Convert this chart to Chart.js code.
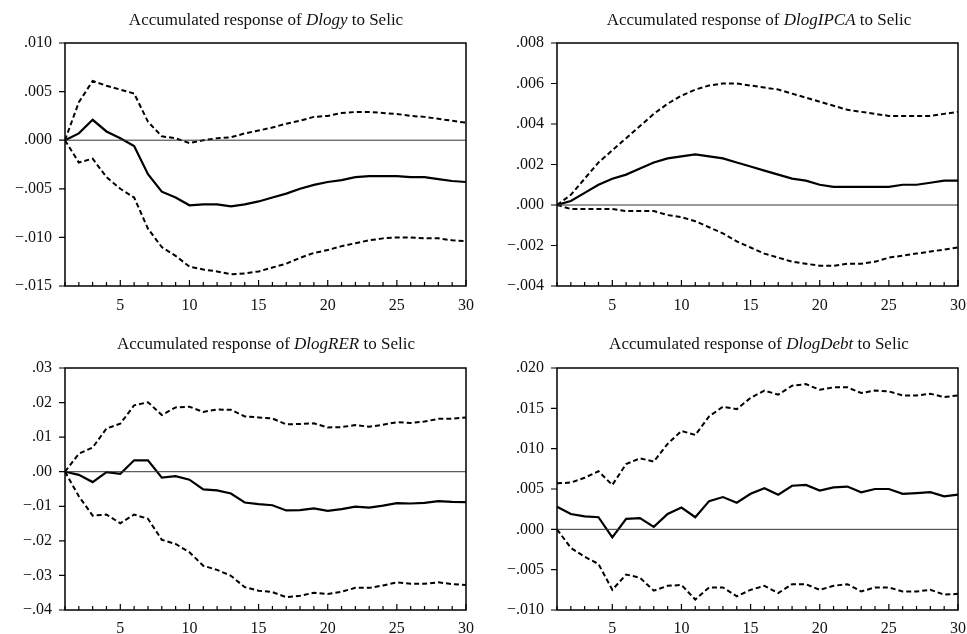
<!DOCTYPE html>
<html>
<head>
<meta charset="utf-8">
<script src="https://cdn.jsdelivr.net/npm/chart.js@4.4.1/dist/chart.umd.min.js"></script>
<style>
  body { margin: 0; background: #fff; }
  #wrap { position: relative; width: 967px; height: 634px; overflow: hidden; }
  .box { position: absolute; }
  .ttl { position: absolute; font-family: "Liberation Serif", serif; font-size: 17px; color: #111;
         white-space: nowrap; transform: translate(-50%, -50%); }
</style>
</head>
<body>
<div id="wrap">
  <div class="box" style="left:0;top:0;width:483px;height:317px"><canvas id="c1"></canvas></div>
  <div class="box" style="left:483px;top:0;width:484px;height:317px"><canvas id="c2"></canvas></div>
  <div class="box" style="left:0;top:317px;width:483px;height:317px"><canvas id="c3"></canvas></div>
  <div class="box" style="left:483px;top:317px;width:484px;height:317px"><canvas id="c4"></canvas></div>
  <div class="ttl" style="left:266px;top:20px">Accumulated response of <i>Dlogy</i> to Selic</div>
  <div class="ttl" style="left:759px;top:20px">Accumulated response of <i>DlogIPCA</i> to Selic</div>
  <div class="ttl" style="left:266px;top:344px">Accumulated response of <i>DlogRER</i> to Selic</div>
  <div class="ttl" style="left:759px;top:344px">Accumulated response of <i>DlogDebt</i> to Selic</div>
</div>
<script>
// periods 1..30
const periods = [1,2,3,4,5,6,7,8,9,10,11,12,13,14,15,16,17,18,19,20,21,22,23,24,25,26,27,28,29,30];

// Dlogy
const dlogyMid = [0,0.0007,0.0021,0.0009,0.0002,-0.0006,-0.0035,-0.0053,-0.0059,-0.0067,-0.0066,-0.0066,-0.0068,-0.0066,-0.0063,-0.0059,-0.0055,-0.0050,-0.0046,-0.0043,-0.0041,-0.0038,-0.0037,-0.0037,-0.0037,-0.0038,-0.0038,-0.0040,-0.0042,-0.0043];
const dlogyUp = [0,0.0039,0.0061,0.0056,0.0052,0.0048,0.0019,0.0004,0.0002,-0.0003,0.0000,0.0002,0.0003,0.0007,0.0010,0.0013,0.0017,0.0020,0.0024,0.0025,0.0028,0.0029,0.0029,0.0028,0.0027,0.0025,0.0024,0.0022,0.0020,0.0018];
const dlogyLo = [0,-0.0023,-0.0019,-0.0038,-0.0050,-0.0059,-0.0091,-0.0110,-0.0119,-0.0130,-0.0133,-0.0135,-0.0138,-0.0137,-0.0135,-0.0131,-0.0127,-0.0121,-0.0116,-0.0113,-0.0109,-0.0106,-0.0103,-0.0101,-0.0100,-0.0100,-0.0101,-0.0101,-0.0103,-0.0104];
const dlogyTicks = [-0.015,-0.010,-0.005,0,0.005,0.010];

// DlogIPCA
const ipcaMid = [0,0.0002,0.0006,0.0010,0.0013,0.0015,0.0018,0.0021,0.0023,0.0024,0.0025,0.0024,0.0023,0.0021,0.0019,0.0017,0.0015,0.0013,0.0012,0.0010,0.0009,0.0009,0.0009,0.0009,0.0009,0.0010,0.0010,0.0011,0.0012,0.0012];
const ipcaUp = [0,0.0005,0.0013,0.0021,0.0027,0.0033,0.0039,0.0045,0.0050,0.0054,0.0057,0.0059,0.0060,0.0060,0.0059,0.0058,0.0057,0.0055,0.0053,0.0051,0.0049,0.0047,0.0046,0.0045,0.0044,0.0044,0.0044,0.0044,0.0045,0.0046];
const ipcaLo = [0,-0.0002,-0.0002,-0.0002,-0.0002,-0.0003,-0.0003,-0.0003,-0.0005,-0.0006,-0.0008,-0.0011,-0.0014,-0.0018,-0.0021,-0.0024,-0.0026,-0.0028,-0.0029,-0.0030,-0.0030,-0.0029,-0.0029,-0.0028,-0.0026,-0.0025,-0.0024,-0.0023,-0.0022,-0.0021];
const ipcaTicks = [-0.004,-0.002,0,0.002,0.004,0.006,0.008];

// DlogRER
const rerMid = [0,-0.0009,-0.0030,-0.0001,-0.0006,0.0033,0.0033,-0.0017,-0.0013,-0.0023,-0.0051,-0.0054,-0.0063,-0.0089,-0.0094,-0.0097,-0.0112,-0.0111,-0.0106,-0.0113,-0.0108,-0.0101,-0.0104,-0.0098,-0.0091,-0.0092,-0.0090,-0.0085,-0.0087,-0.0088];
const rerUp = [0,0.0052,0.0070,0.0125,0.0139,0.0192,0.0201,0.0164,0.0186,0.0188,0.0173,0.0180,0.0179,0.0160,0.0157,0.0154,0.0137,0.0138,0.0140,0.0128,0.0129,0.0135,0.0130,0.0136,0.0143,0.0141,0.0145,0.0153,0.0153,0.0157];
const rerLo = [0,-0.0071,-0.0127,-0.0124,-0.0149,-0.0124,-0.0136,-0.0197,-0.0209,-0.0233,-0.0272,-0.0284,-0.0301,-0.0334,-0.0344,-0.0348,-0.0363,-0.0359,-0.0350,-0.0354,-0.0347,-0.0336,-0.0336,-0.0329,-0.0320,-0.0324,-0.0324,-0.0320,-0.0325,-0.0328];
const rerTicks = [-0.04,-0.03,-0.02,-0.01,0,0.01,0.02,0.03];

// DlogDebt
const debtMid = [0.0028,0.0019,0.0016,0.0015,-0.0010,0.0013,0.0014,0.0003,0.0019,0.0027,0.0015,0.0035,0.0040,0.0033,0.0044,0.0051,0.0043,0.0054,0.0055,0.0048,0.0052,0.0053,0.0046,0.0050,0.0050,0.0044,0.0045,0.0046,0.0041,0.0043];
const debtUp = [0.0057,0.0058,0.0064,0.0072,0.0055,0.0081,0.0088,0.0084,0.0106,0.0122,0.0117,0.0140,0.0152,0.0149,0.0163,0.0172,0.0167,0.0178,0.0180,0.0173,0.0176,0.0176,0.0169,0.0172,0.0171,0.0166,0.0166,0.0168,0.0164,0.0166];
const debtLo = [0,-0.0023,-0.0034,-0.0043,-0.0075,-0.0056,-0.0060,-0.0076,-0.0070,-0.0069,-0.0087,-0.0072,-0.0072,-0.0083,-0.0075,-0.0070,-0.0079,-0.0068,-0.0068,-0.0075,-0.0070,-0.0068,-0.0077,-0.0072,-0.0072,-0.0077,-0.0077,-0.0075,-0.0081,-0.0080];
const debtTicks = [-0.010,-0.005,0,0.005,0.010,0.015,0.020];

const FONT = "'Liberation Serif', serif";

function fmt(v, dec) {
    let s = Math.abs(v).toFixed(dec).replace(/^0/, "");
    return (v < -1e-9 ? "\u2212" : "") + s;
}

// frame, zero line and the small tick marks
const framePlugin = {
    id: "frame",
    afterDatasetsDraw(chart) {
        const ctx = chart.ctx, a = chart.chartArea;
        const xs = chart.scales.x, ys = chart.scales.y;
        ctx.save();
        // zero line
        const y0 = ys.getPixelForValue(0);
        ctx.strokeStyle = "#333";
        ctx.lineWidth = 1;
        ctx.beginPath();
        ctx.moveTo(a.left, y0);
        ctx.lineTo(a.right, y0);
        ctx.stroke();
        ctx.strokeStyle = "#000";
        ctx.lineWidth = 1.5;
        ctx.strokeRect(a.left, a.top, a.right - a.left, a.bottom - a.top);
        ctx.lineWidth = 1.2;
        ctx.beginPath();
        xs.ticks.forEach(t => {
            const px = xs.getPixelForValue(t.value);
            const len = t.value % 5 === 0 ? 6 : 4;
            ctx.moveTo(px, a.bottom);
            ctx.lineTo(px, a.bottom - len);
        });
        ys.ticks.forEach(t => {
            const py = ys.getPixelForValue(t.value);
            ctx.moveTo(a.left, py);
            ctx.lineTo(a.left - 6, py);
        });
        ctx.stroke();
        ctx.restore();
    }
};

function makeChart(id, up, mid, lo, yTicks, dec, geo) {
    const dash = [5, 3];
    new Chart(document.getElementById(id), {
        type: "line",
        data: {
            labels: periods,
            datasets: [
                { data: up, borderColor: "#000", borderWidth: 2, borderDash: dash },
                { data: mid, borderColor: "#000", borderWidth: 2.2 },
                { data: lo, borderColor: "#000", borderWidth: 2, borderDash: dash }
            ].map(d => Object.assign(d, {
                data: d.data.map((v, i) => ({ x: periods[i], y: v })),
                pointRadius: 0, tension: 0, fill: false
            }))
        },
        options: {
            responsive: true,
            maintainAspectRatio: false,
            animation: false,
            layout: { padding: { left: 0, top: geo.top, right: geo.right, bottom: 0 } },
            plugins: { legend: { display: false }, tooltip: { enabled: false } },
            scales: {
                x: {
                    type: "linear", min: 1, max: 30,
                    grid: { display: false, drawTicks: false },
                    border: { display: false },
                    afterBuildTicks: s => { s.ticks = periods.map(v => ({ value: v })); },
                    afterFit: s => { s.height = geo.xh; s.paddingLeft = 0; s.paddingRight = 0; },
                    ticks: {
                        autoSkip: false, maxRotation: 0, padding: geo.xpad,
                        color: "#111", font: { family: FONT, size: 16 },
                        callback: v => (v % 5 === 0 ? String(v) : "")
                    }
                },
                y: {
                    min: yTicks[0], max: yTicks[yTicks.length - 1],
                    grid: { display: false, drawTicks: false },
                    border: { display: false },
                    afterBuildTicks: s => { s.ticks = yTicks.map(v => ({ value: v })); },
                    afterFit: s => { s.width = geo.yw; s.paddingTop = 0; s.paddingBottom = 0; },
                    ticks: {
                        padding: 13, color: "#111", font: { family: FONT, size: 16 },
                        callback: v => fmt(v, dec)
                    }
                }
            }
        },
        plugins: [framePlugin]
    });
}

document.addEventListener("DOMContentLoaded", () => {
    makeChart("c1", dlogyUp, dlogyMid, dlogyLo, dlogyTicks, 3, { top: 43, right: 17, xh: 31, yw: 65, xpad: 10 });
    makeChart("c2", ipcaUp, ipcaMid, ipcaLo, ipcaTicks, 3, { top: 43, right: 9, xh: 31, yw: 74, xpad: 10 });
    makeChart("c3", rerUp, rerMid, rerLo, rerTicks, 2, { top: 51, right: 17, xh: 24, yw: 65, xpad: 9 });
    makeChart("c4", debtUp, debtMid, debtLo, debtTicks, 3, { top: 51, right: 9, xh: 24, yw: 74, xpad: 9 });
});
</script>
</body>
</html>
